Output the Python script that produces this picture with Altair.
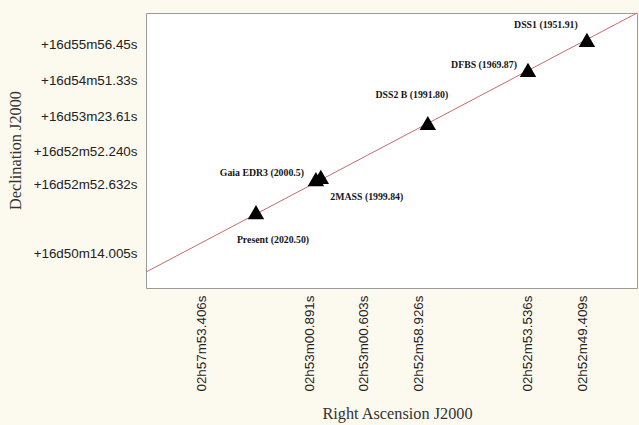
import altair as alt
import pandas as pd

# Catalogue epochs, positions in plot offset units (0-100 along each axis)
names = ["Present (2020.50)", "Gaia EDR3 (2000.5)", "2MASS (1999.84)",
         "DSS2 B (1991.80)", "DFBS (1969.87)", "DSS1 (1951.91)"]
ra_pos = [22.4, 34.6, 35.6, 57.4, 77.8, 89.8]
dec_pos = [27.6, 39.6, 40.4, 60.0, 79.3, 90.2]

# Fitted proper-motion track
fit_x = [0, 100]
fit_y = [5.8, 100]

# Axis tick positions and their labels
ra_ticks = [11.4, 33.4, 44.2, 55.4, 77.8, 89.0]
ra_labels = ["02h57m53.406s", "02h53m00.891s", "02h53m00.603s",
             "02h52m58.926s", "02h52m53.536s", "02h52m49.409s"]
dec_ticks = [88.4, 75.6, 62.5, 49.8, 37.8, 12.7]
dec_labels = ["+16d55m56.45s", "+16d54m51.33s", "+16d53m23.61s",
              "+16d52m52.240s", "+16d52m52.632s", "+16d50m14.005s"]

# Label placement (dx, dy in pixels) relative to each point
label_offsets = {
    "Present (2020.50)": (17, 28),
    "Gaia EDR3 (2000.5)": (-54, -6),
    "2MASS (1999.84)": (46, 20),
    "DSS2 B (1991.80)": (-16, -28),
    "DFBS (1969.87)": (-44, -5),
    "DSS1 (1951.91)": (-41, -15),
}


def label_expr(values, labels):
    expr = "''"
    for v, lab in reversed(list(zip(values, labels))):
        expr = f"datum.value == {v} ? '{lab}' : ({expr})"
    return expr


pts = pd.DataFrame({"name": names, "ra": ra_pos, "dec": dec_pos})
fit = pd.DataFrame({"x": [fit_x[0]], "x2": [fit_x[1]], "y": [fit_y[0]], "y2": [fit_y[1]]})

x_scale = alt.Scale(domain=[0, 100], nice=False, zero=False)
y_scale = alt.Scale(domain=[0, 100], nice=False, zero=False)

x_axis = alt.Axis(
    values=ra_ticks, labelExpr=label_expr(ra_ticks, ra_labels),
    labelAngle=270, labelAlign="right", labelBaseline="middle",
    labelPadding=7, ticks=False, domain=False, grid=False,
    labelFont="Liberation Sans", labelFontSize=13.4, labelColor="#222222",
    title="Right Ascension J2000", titleFont="Liberation Serif",
    titleFontSize=16.3, titleFontWeight="normal", titleColor="#333333",
    titleX=251, titleY=125, titleAlign="center", titleBaseline="middle",
    labelOverlap=False,
)
y_axis = alt.Axis(
    values=dec_ticks, labelExpr=label_expr(dec_ticks, dec_labels),
    labelPadding=9, ticks=False, domain=False, grid=False,
    labelFont="Liberation Sans", labelFontSize=13.4, labelColor="#222222",
    title="Declination J2000", titleFont="Liberation Serif",
    titleFontSize=16.3, titleFontWeight="normal", titleColor="#333333",
    titleX=-131, titleY=137, titleAngle=270, titleAlign="center",
    titleBaseline="middle", labelOverlap=False,
)

line = alt.Chart(fit).mark_rule(color="#c86a6a", strokeWidth=1).encode(
    x=alt.X("x:Q", scale=x_scale, axis=x_axis),
    x2="x2:Q",
    y=alt.Y("y:Q", scale=y_scale, axis=y_axis),
    y2="y2:Q",
)

markers = alt.Chart(pts).mark_point(
    shape="triangle-up", filled=True, color="black", size=270, opacity=1
).encode(
    x=alt.X("ra:Q", scale=x_scale),
    y=alt.Y("dec:Q", scale=y_scale),
)

layers = [line, markers]
for nm in names:
    dx, dy = label_offsets[nm]
    layers.append(
        alt.Chart(pts).transform_filter(alt.datum.name == nm).mark_text(
            dx=dx, dy=dy, font="Liberation Serif", fontWeight="bold",
            fontSize=9.8, color="#161616", align="center", baseline="middle",
        ).encode(
            x=alt.X("ra:Q", scale=x_scale),
            y=alt.Y("dec:Q", scale=y_scale),
            text="name:N",
        )
    )

chart = alt.layer(*layers).properties(
    width=491, height=275,
    autosize=alt.AutoSizeParams(type="none"),
    padding={"left": 146, "top": 13, "right": 2, "bottom": 137},
    background="#fcf9ee",
).configure_view(
    fill="white", stroke="#9a9a9a", strokeWidth=1
)

chart.save("out.html", embed_options={"renderer": "svg", "actions": False})
